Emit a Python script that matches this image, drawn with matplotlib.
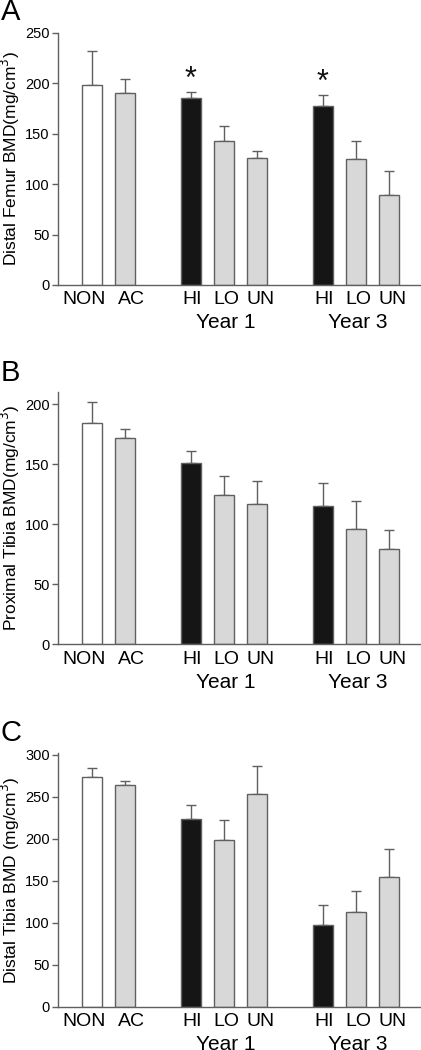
import matplotlib
matplotlib.use("Agg")
import matplotlib.pyplot as plt
import numpy as np

plt.rcParams['font.family'] = ['Liberation Sans', 'DejaVu Sans']

# group labels and bar positions
labels = ["NON", "AC", "HI", "LO", "UN", "HI", "LO", "UN"]
positions = [0, 1, 3, 4, 5, 7, 8, 9]
year_labels = ["Year 1", "Year 3"]
year_pos = [4, 8]

# panel A - distal femur
femur_mean = [198, 190, 186, 143, 126, 178, 125, 89]
femur_err = [34, 14, 5, 15, 7, 10, 18, 24]
femur_sig = [False, False, True, False, False, True, False, False]

# panel B - proximal tibia
ptibia_mean = [184, 172, 151, 124, 117, 115, 96, 79]
ptibia_err = [18, 7, 10, 16, 19, 19, 23, 16]

# panel C - distal tibia
dtibia_mean = [273, 264, 223, 199, 253, 97, 113, 155]
dtibia_err = [11, 5, 17, 23, 33, 24, 25, 33]

colors = ["white", "#d8d8d8", "#151515", "#d8d8d8", "#d8d8d8",
          "#151515", "#d8d8d8", "#d8d8d8"]
edge = "#606060"
# small horizontal nudges of the group labels (pixels)
label_shift = [-8, 6, 1, 2, 4, 1, 2, 4]

W, H = 421, 1050
fig = plt.figure(figsize=(W / 100, H / 100), dpi=100)
px = 72 / 100  # points per pixel

panels = [
    ("A", femur_mean, femur_err, femur_sig, 250, 50,
     "Distal Femur BMD(mg/cm$^3$)", 33, 285, 12),
    ("B", ptibia_mean, ptibia_err, None, 210, 50,
     "Proximal Tibia BMD(mg/cm$^3$)", 392, 644, 373),
    ("C", dtibia_mean, dtibia_err, None, 302, 50,
     "Distal Tibia BMD (mg/cm$^3$)", 753, 1007, 733),
]

for letter, mean, err, sig, ymax, step, ylab, top, bot, ly in panels:
    ax = fig.add_axes([58 / W, 1 - bot / H, 362 / W, (bot - top) / H])
    ax.bar(positions, mean, width=0.6, color=colors, edgecolor=edge,
           linewidth=1.0, zorder=2)
    ax.errorbar(positions, mean, yerr=[np.zeros(len(err)), err], fmt="none",
                ecolor=edge, elinewidth=1.0, capsize=3.5, capthick=1.0,
                zorder=1)
    if sig is not None:
        for p, m, e, s in zip(positions, mean, err, sig):
            if s:
                ax.text(p, m + e - 2, "*", ha="center", va="bottom",
                        fontsize=22, color="#111111")
    ax.set_xlim(-1.03, 9.94)
    ax.set_ylim(0, ymax)
    ax.set_yticks(np.arange(0, ymax + 1, step))
    ax.set_xticks([])
    # group labels under the bars
    for lab, p, dx in zip(labels, positions, label_shift):
        ax.annotate(lab, xy=(p, 0), xycoords=ax.get_xaxis_transform(),
                    xytext=(dx * px, -15 * px), textcoords="offset points",
                    ha="center", va="center", fontsize=14)
    ax.tick_params(axis="y", length=4, width=1.0, color=edge, labelsize=10.5,
                   pad=2)
    for sp in ["top", "right"]:
        ax.spines[sp].set_visible(False)
    for sp in ["left", "bottom"]:
        ax.spines[sp].set_color(edge)
        ax.spines[sp].set_linewidth(1.0)
    ax.set_ylabel(ylab, fontsize=12.5, va="center")
    ax.yaxis.set_label_coords(-48 / 362, 0.5)
    for yl, yp in zip(year_labels, year_pos):
        ax.annotate(yl, xy=(yp, 0), xycoords=ax.get_xaxis_transform(),
                    xytext=(2 * px, -38 * px), textcoords="offset points",
                    ha="center", va="center", fontsize=15)
    fig.text(1 / W, 1 - ly / H, letter, fontsize=21, ha="left",
             va="center")

fig.savefig("out.png", dpi=100)
